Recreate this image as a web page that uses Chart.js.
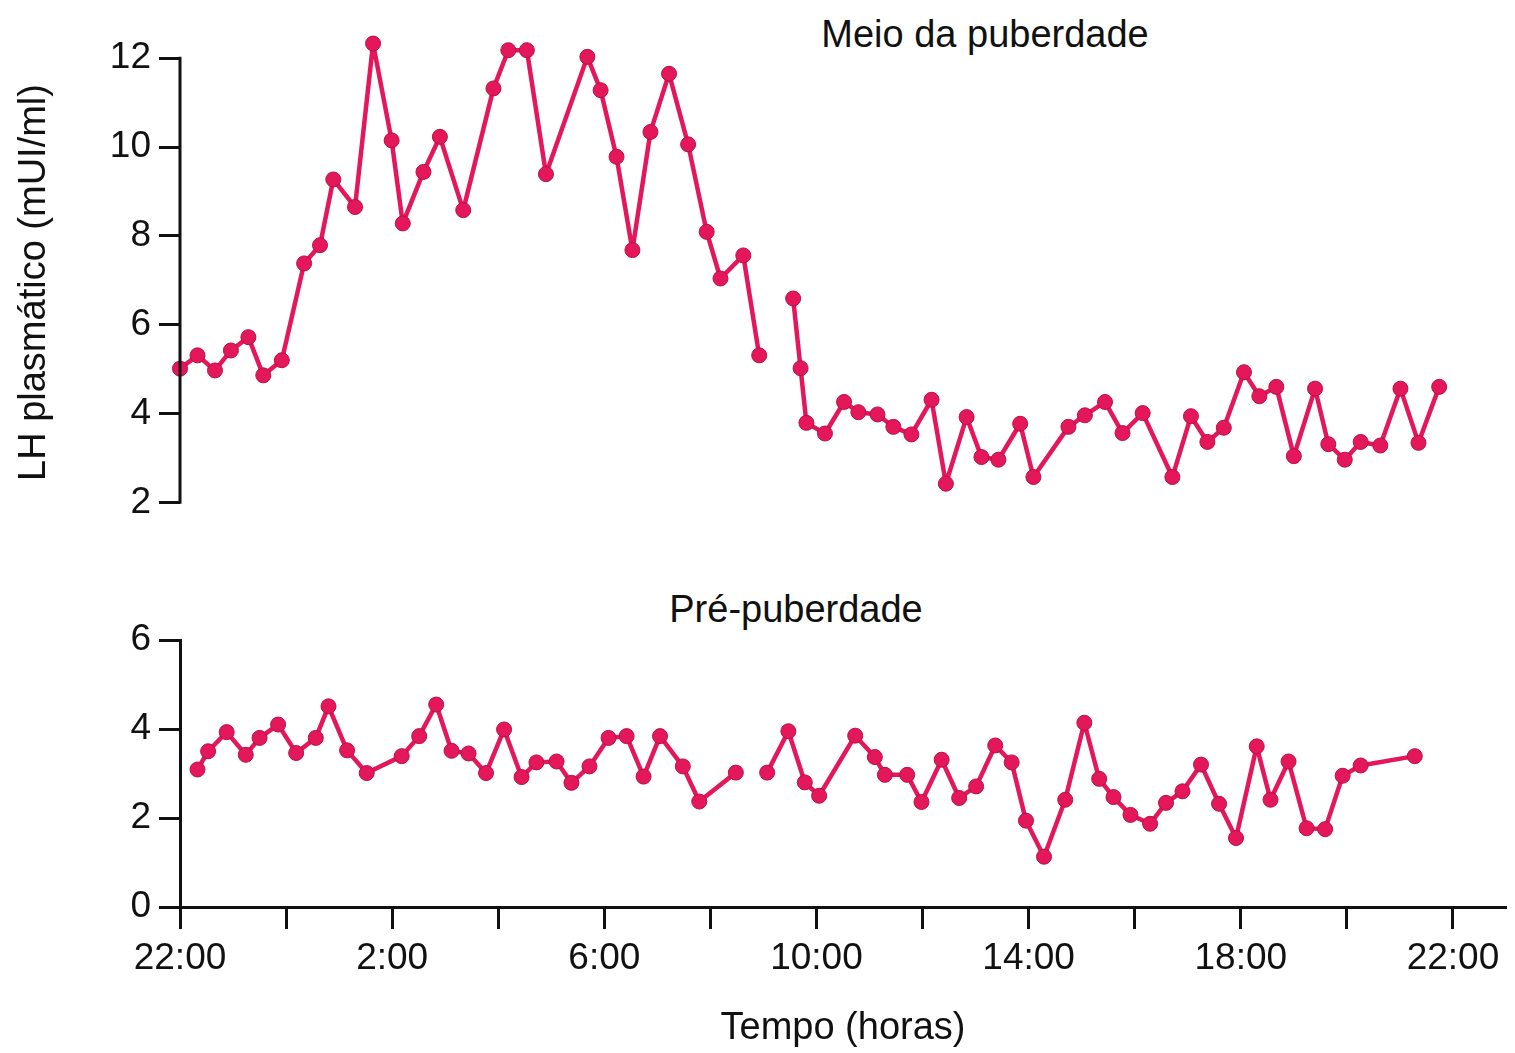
<!DOCTYPE html>
<html>
<head>
<meta charset="utf-8">
<script src="https://cdn.jsdelivr.net/npm/chart.js@4.4.0/dist/chart.umd.min.js"></script>
<style>
  body { margin: 0; background: #fff; width: 1515px; height: 1053px; position: relative; overflow: hidden;
         font-family: "Liberation Sans", Arial, sans-serif; color: #111; }
  .box { position: absolute; left: 0; width: 1515px; }
  #topBox { top: 0; height: 560px; }
  #botBox { top: 540px; height: 513px; }
  .ttl { position: absolute; font-size: 38px; line-height: 38px; white-space: nowrap; transform: translateX(-50%); }
</style>
</head>
<body>
<div class="ttl" style="left:985px; top:15px">Meio da puberdade</div>
<div class="ttl" style="left:796px; top:590px">Pré-puberdade</div>
<div class="box" id="topBox"><canvas id="topChart" width="1515" height="560"></canvas></div>
<div class="box" id="botBox"><canvas id="botChart" width="1515" height="513"></canvas></div>
<script>
// hours after 22:00
const hourTicks = [0, 2, 4, 6, 8, 10, 12, 14, 16, 18, 20, 22, 24];
const hourLabels = ['22:00', '', '2:00', '', '6:00', '', '10:00', '', '14:00', '', '18:00', '', '22:00'];

// Meio da puberdade
const midHours = [0.00, 0.33, 0.66, 0.96, 1.29, 1.57, 1.92, 2.34, 2.64, 2.89, 3.30, 3.64, 3.99, 4.20, 4.59, 4.90,
  5.34, 5.91, 6.19, 6.54, 6.90, 7.68, 7.93, 8.23, 8.53, 8.87, 9.22, 9.58, 9.93, 10.19, 10.62, 10.92, 11.25,
  11.56, 11.70, 11.81, 12.16, 12.52, 12.79, 13.15, 13.45, 13.79, 14.17, 14.44, 14.83, 15.11, 15.43, 15.84,
  16.09, 16.75, 17.06, 17.44, 17.77, 18.15, 18.71, 19.06, 19.37, 19.68, 20.06, 20.35, 20.67, 21.00, 21.40,
  21.65, 21.96, 22.26, 22.63, 23.01, 23.35, 23.74];
const midLH = [5.01, 5.31, 4.97, 5.42, 5.72, 4.86, 5.20, 7.38, 7.79, 9.27, 8.65, 12.33, 10.15, 8.28, 9.44, 10.23,
  8.58, 11.32, 12.18, 12.18, 9.39, 12.03, 11.28, 9.78, 7.68, 10.34, 11.65, 10.06, 8.09, 7.04, 7.56, 5.31, null,
  6.59, 5.02, 3.79, 3.55, 4.26, 4.03, 3.98, 3.70, 3.53, 4.31, 2.42, 3.92, 3.02, 2.96, 3.77,
  2.57, 3.70, 3.96, 4.26, 3.56, 4.01, 2.57, 3.94, 3.36, 3.68, 4.93, 4.39, 4.60, 3.04, 4.56,
  3.31, 2.96, 3.36, 3.28, 4.56, 3.34, 4.60];
const midTicks = [2, 4, 6, 8, 10, 12];

// Pré-puberdade
const preHours = [0.33, 0.53, 0.88, 1.24, 1.50, 1.85, 2.19, 2.56, 2.80, 3.15, 3.52, 4.18, 4.51, 4.83, 5.12, 5.44,
  5.77, 6.11, 6.44, 6.72, 7.10, 7.38, 7.72, 8.08, 8.42, 8.74, 9.05, 9.48, 9.79, 10.48, 10.78, 11.07, 11.47,
  11.78, 12.05, 12.73, 13.10, 13.29, 13.71, 13.98, 14.36, 14.69, 15.01, 15.37, 15.68, 15.95, 16.29, 16.69,
  17.05, 17.33, 17.60, 17.92, 18.29, 18.59, 18.90, 19.25, 19.59, 19.91, 20.30, 20.56, 20.90, 21.24, 21.59,
  21.92, 22.26, 23.28];
const preLH = [3.09, 3.50, 3.93, 3.42, 3.80, 4.10, 3.46, 3.80, 4.51, 3.52, 3.01, 3.39, 3.84, 4.55, 3.51, 3.45,
  3.01, 3.99, 2.92, 3.25, 3.27, 2.79, 3.16, 3.80, 3.84, 2.93, 3.84, 3.16, 2.37, 3.02, null, 3.02, 3.95,
  2.80, 2.50, 3.85, 3.37, 2.97, 2.97, 2.36, 3.31, 2.45, 2.71, 3.63, 3.25, 1.94, 1.13, 2.41,
  4.14, 2.88, 2.47, 2.07, 1.87, 2.34, 2.60, 3.20, 2.32, 1.55, 3.61, 2.41, 3.27, 1.77, 1.75,
  2.95, 3.18, 3.39];
const preTicks = [0, 2, 4, 6];

const lineColor = '#E3175A';
const ink = '#111';

Chart.defaults.font.family = '"Liberation Sans", Arial, sans-serif';
Chart.defaults.color = ink;

function series(hours, vals) {
  return {
    data: hours.map((h, i) => ({ x: h, y: vals[i] })),
    borderColor: lineColor,
    backgroundColor: lineColor,
    borderWidth: 4.5,
    borderJoinStyle: 'round',
    pointRadius: 7.5,
    pointBorderWidth: 1,
    pointBorderColor: '#B8104A',
    pointBackgroundColor: lineColor,
    spanGaps: false,
    clip: false,
    tension: 0
  };
}

function yAxis(min, max, ticks, title, showBorder) {
  return {
    type: 'linear', min: min, max: max,
    afterBuildTicks: s => { s.ticks = ticks.map(v => ({ value: v })); },
    afterFit: s => { s.width = 180; },
    border: { display: showBorder, color: ink, width: 3 },
    grid: { drawOnChartArea: false, drawTicks: true, tickLength: 21, tickWidth: 3, tickColor: ink },
    ticks: { font: { size: 37 }, color: ink, padding: 8 },
    title: title ? { display: true, text: title, font: { size: 38 }, color: ink, padding: { top: 12 } } : { display: false }
  };
}

// top panel: axis line only between the first and last tick (room is left above 12 for the peak)
const axisSpan = {
  id: 'axisSpan',
  afterDraw(chart) {
    const y = chart.scales.y, ctx = chart.ctx, x = chart.chartArea.left;
    ctx.save();
    ctx.strokeStyle = ink;
    ctx.lineWidth = 3;
    ctx.beginPath();
    ctx.moveTo(x, y.getPixelForValue(midTicks[midTicks.length - 1]) - 1.5);
    ctx.lineTo(x, y.getPixelForValue(midTicks[0]) + 1.5);
    ctx.stroke();
    ctx.restore();
  }
};

new Chart(document.getElementById('topChart'), {
  type: 'line',
  data: { datasets: [series(midHours, midLH)] },
  options: {
    responsive: false, animation: false,
    layout: { padding: { top: 36, right: 9, bottom: 31, left: 0 } },
    plugins: { legend: { display: false }, tooltip: { enabled: false } },
    scales: {
      x: { type: 'linear', min: 0, max: 25, display: false },
      y: yAxis(1.4, 12.5, midTicks, 'LH plasmático (mUI/ml)', false)
    }
  },
  plugins: [axisSpan]
});

new Chart(document.getElementById('botChart'), {
  type: 'line',
  data: { datasets: [series(preHours, preLH)] },
  options: {
    responsive: false, animation: false,
    layout: { padding: { top: 100, right: 9, bottom: 0, left: 0 } },
    plugins: { legend: { display: false }, tooltip: { enabled: false } },
    scales: {
      x: {
        type: 'linear', min: 0, max: 25,
        afterBuildTicks: s => { s.ticks = hourTicks.map(v => ({ value: v })); },
        afterFit: s => { s.height = 146; },
        border: { display: true, color: ink, width: 3 },
        grid: { drawOnChartArea: false, drawTicks: true, tickLength: 22, tickWidth: 3, tickColor: ink },
        ticks: { autoSkip: false, maxRotation: 0, font: { size: 37 }, color: ink, padding: 8,
                 callback: (v, i) => hourLabels[i] },
        title: { display: true, text: 'Tempo (horas)', font: { size: 38 }, color: ink, padding: { bottom: 2 } }
      },
      y: yAxis(0, 6, preTicks, null, true)
    }
  }
});
</script>
</body>
</html>
